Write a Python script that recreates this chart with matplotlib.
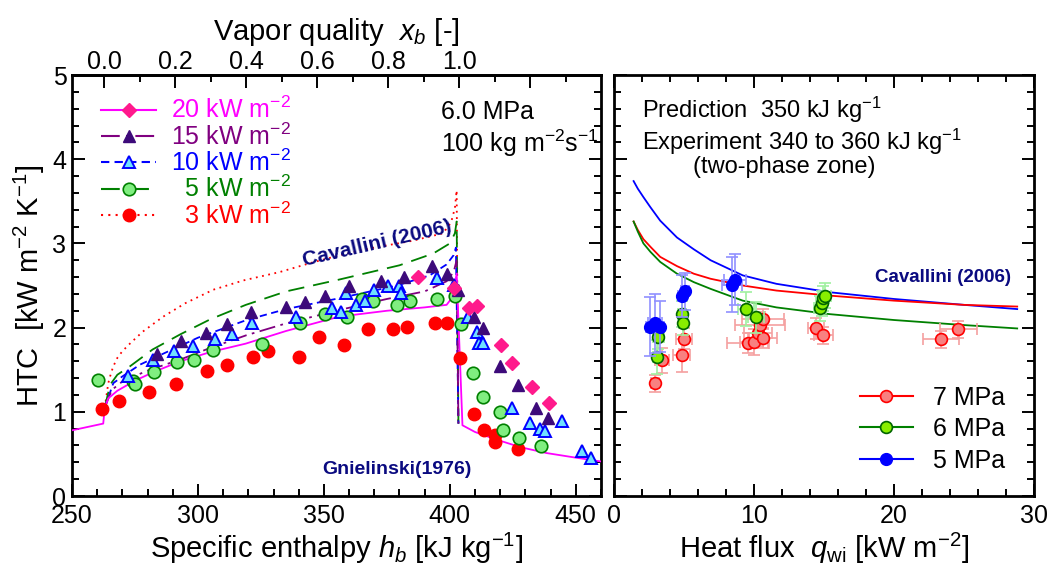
import numpy as np
import matplotlib
matplotlib.use("Agg")
import matplotlib.pyplot as plt
from matplotlib import font_manager
from matplotlib.lines import Line2D
from matplotlib.ticker import MultipleLocator, FixedLocator, FuncFormatter

# ---------------- left panel data (6.0 MPa, 100 kg m-2 s-1) ----------------
# experiment, HTC [kW m-2 K-1] vs specific enthalpy [kJ kg-1]
h_20kw = [387.4, 401.6, 407.7, 410.6, 420.2, 424.5, 432.8, 439.3]
htc_20kw = [2.60, 2.47, 2.23, 2.26, 1.79, 1.58, 1.30, 1.10]

h_15kw = [283.6, 293.1, 303.2, 311.4, 320.9, 334.8, 342.5, 350.4, 360.0, 372.6,
          381.9, 393.0, 398.9, 403.3, 409.5, 413.0, 420.1, 426.9, 434.0, 439.0]
htc_15kw = [1.69, 1.84, 1.93, 2.04, 2.18, 2.24, 2.30, 2.37, 2.49, 2.55,
            2.60, 2.73, 2.64, 2.45, 2.13, 2.00, 1.54, 1.32, 1.05, 0.93]

h_10kw = [272.3, 282.0, 290.6, 297.9, 306.7, 313.4, 321.3, 338.8, 353.1, 356.7,
          358.7, 362.7, 366.5, 370.0, 375.5, 379.8, 380.8, 395.0, 401.6, 407.3,
          410.8, 411.5, 413.2, 424.5, 431.7, 435.7, 437.7, 444.6, 452.3, 456.2]
htc_10kw = [1.42, 1.61, 1.72, 1.78, 1.86, 1.92, 2.05, 2.12, 2.23, 2.19,
            2.41, 2.27, 2.32, 2.45, 2.49, 2.49, 2.41, 2.59, 2.51, 2.13,
            1.95, 1.82, 1.82, 1.05, 0.87, 0.79, 0.77, 0.89, 0.54, 0.45]

h_5kw = [260.4, 274.3, 275.0, 282.5, 291.5, 298.4, 306.1, 325.3, 340.5, 350.4,
         359.2, 365.0, 369.6, 379.2, 384.1, 394.7, 402.0, 404.4, 409.2, 413.2,
         420.1, 420.9, 427.4, 436.0]
htc_5kw = [1.38, 1.37, 1.33, 1.47, 1.59, 1.62, 1.73, 1.80, 2.06, 2.16,
           2.12, 2.34, 2.31, 2.27, 2.32, 2.34, 2.37, 2.04, 1.46, 1.17,
           1.00, 0.78, 0.69, 0.59]

h_3kw = [261.8, 268.8, 280.6, 291.2, 303.5, 311.4, 321.7, 327.9, 340.2, 348.1,
         357.9, 367.6, 377.3, 383.1, 394.0, 398.9, 404.0, 409.5, 413.6, 418.1,
         418.1, 426.9]
htc_3kw = [1.03, 1.13, 1.23, 1.33, 1.48, 1.56, 1.65, 1.72, 1.65, 1.89,
           1.79, 1.98, 1.98, 2.01, 2.05, 2.06, 1.64, 0.97, 0.78, 0.73,
           0.64, 0.56]

# predictions: Gnielinski (1976) single phase, Cavallini (2006) two phase
h_pred_20 = [250, 262.4, 263.0, 264.4, 268, 275, 283, 293, 305, 319, 335, 356, 375, 390,
             398.7, 401.0, 402.7, 405.0, 410, 418.5, 428, 438.4, 449, 460]
htc_pred_20 = [0.78, 0.86, 1.05, 1.16, 1.25, 1.37, 1.48, 1.60, 1.71, 1.81, 1.96, 2.13, 2.20, 2.24,
               2.27, 2.36, 2.64, 0.84, 0.76, 0.67, 0.58, 0.51, 0.46, 0.41]

h_pred_15 = [263.0, 265.8, 270, 280, 292.9, 305, 319.3, 335, 356.3, 375, 390, 398.7, 401.5, 402.7, 403.4]
htc_pred_15 = [1.05, 1.26, 1.36, 1.49, 1.62, 1.76, 1.91, 2.05, 2.21, 2.34, 2.43, 2.55, 2.66, 2.80, 0.86]

h_pred_10 = [263.0, 266.4, 270, 277, 286.2, 300, 319.3, 335, 356.3, 379, 392, 398.7, 401.5, 402.4, 403.4]
htc_pred_10 = [1.05, 1.34, 1.42, 1.56, 1.69, 1.88, 2.09, 2.22, 2.35, 2.50, 2.62, 2.75, 2.86, 2.95, 0.86]

h_pred_5 = [263.0, 265.1, 268, 273.0, 282, 293, 305, 319, 335, 356, 380, 393.4, 400.0, 402.0, 402.7, 403.4]
htc_pred_5 = [1.05, 1.32, 1.44, 1.54, 1.74, 1.92, 2.10, 2.27, 2.43, 2.57, 2.74, 2.88, 3.00, 3.12, 3.26, 0.86]

h_pred_3 = [263.0, 264.4, 265.5, 266.4, 268, 270, 273, 278, 286.2, 295, 306.1, 318, 332.5, 345,
            356.3, 370, 385, 397.3, 400.5, 402.0, 402.7, 403.3]
htc_pred_3 = [1.05, 1.34, 1.46, 1.54, 1.64, 1.72, 1.81, 1.95, 2.13, 2.29, 2.45, 2.56, 2.66, 2.77,
              2.86, 2.95, 3.03, 3.12, 3.25, 3.42, 3.63, 0.86]

# ---------------- right panel data (350 kJ/kg, two-phase) ----------------
q_pred = [1.4, 1.7, 2.1, 2.6, 3.3, 4.5, 5.7, 6.9, 9.2, 11.6, 15.4, 20, 25, 28.8]
htc_pred_5mpa = [3.74, 3.65, 3.55, 3.43, 3.27, 3.07, 2.93, 2.80, 2.62, 2.52, 2.42, 2.34, 2.27, 2.22]
htc_pred_7mpa = [3.26, 3.16, 3.05, 2.96, 2.84, 2.73, 2.64, 2.58, 2.50, 2.44, 2.38, 2.32, 2.27, 2.25]
htc_pred_6mpa = [3.26, 3.14, 3.00, 2.90, 2.78, 2.64, 2.54, 2.46, 2.32, 2.24, 2.16, 2.09, 2.03, 1.99]

q_7mpa = [2.93, 3.41, 4.84, 5.00, 9.59, 10.0, 10.31, 10.43, 10.66, 10.62, 14.43, 14.95, 23.34, 24.6]
htc_7mpa = [1.34, 1.61, 1.67, 1.87, 1.82, 1.83, 1.93, 2.03, 2.10, 1.88, 1.99, 1.91, 1.86, 1.98]
qerr_7mpa = [0.3, 0.5, 0.6, 0.6, 1.5, 1.0, 1.0, 1.8, 1.5, 1.0, 0.6, 0.7, 1.3, 1.3]
htcerr_7mpa = [0.10, 0.15, 0.20, 0.12, 0.12, 0.15, 0.15, 0.15, 0.12, 0.12, 0.12, 0.10, 0.10, 0.10]

q_6mpa = [3.16, 3.05, 4.84, 4.95, 9.43, 10.14, 14.71, 14.84, 14.95, 15.07]
htc_6mpa = [1.89, 1.65, 2.16, 2.06, 2.22, 2.12, 2.23, 2.29, 2.35, 2.38]
qerr_6mpa = [0.4, 0.3, 0.3, 0.3, 0.6, 0.6, 0.4, 0.4, 0.4, 0.4]
htcerr_6mpa = [0.15, 0.20, 0.15, 0.15, 0.20, 0.18, 0.15, 0.15, 0.15, 0.15]

q_5mpa = [2.57, 2.93, 3.29, 4.84, 5.07, 8.41, 8.64]
htc_5mpa = [2.01, 2.05, 2.01, 2.37, 2.43, 2.51, 2.57]
qerr_5mpa = [0.3, 0.5, 0.3, 0.3, 0.3, 0.7, 0.8]
htcerr_5mpa = [0.35, 0.35, 0.30, 0.25, 0.22, 0.33, 0.30]

# ---------------- fonts ----------------
names = {f.name for f in font_manager.fontManager.ttflist}
base = 'Liberation Sans' if 'Liberation Sans' in names else 'DejaVu Sans'
plt.rcParams['font.family'] = [base, 'DejaVu Sans']
plt.rcParams['mathtext.fontset'] = 'custom'
plt.rcParams['mathtext.rm'] = base
plt.rcParams['mathtext.it'] = base + ':italic'
plt.rcParams['mathtext.bf'] = base + ':bold'

tick_fs = 18
label_fs = 21
text_fs = 18
navy = '#0a0a80'

fig = plt.figure(figsize=(10.55, 5.70), dpi=100)
ax1 = fig.add_axes([72 / 1055, 74 / 570, 529 / 1055, 421 / 570])
ax2 = fig.add_axes([614 / 1055, 74 / 570, 420 / 1055, 421 / 570])

# ---------------- left panel ----------------
ax1.plot(h_pred_3, htc_pred_3, color='red', ls=(0, (1, 2.5)), lw=1.3, zorder=2)
ax1.plot(h_pred_5, htc_pred_5, color='green', ls=(0, (9, 5)), lw=1.3, zorder=2)
ax1.plot(h_pred_10, htc_pred_10, color='blue', ls=(0, (4, 2.5)), lw=1.3, zorder=2)
ax1.plot(h_pred_15, htc_pred_15, color='purple', ls=(0, (9, 3, 1.5, 3)), lw=1.3, zorder=2)
ax1.plot(h_pred_20, htc_pred_20, color='magenta', ls='-', lw=1.3, zorder=3)

ms = 9
ax1.plot(h_3kw, htc_3kw, 'o', ms=ms, mfc='red', mec='red', zorder=4)
ax1.plot(h_5kw, htc_5kw, 'o', ms=ms, mfc='#80ee80', mec='green', mew=1.2, zorder=4)
ax1.plot(h_10kw, htc_10kw, '^', ms=ms, mfc='#70e0ff', mec='blue', mew=1.4, zorder=4)
ax1.plot(h_15kw, htc_15kw, '^', ms=ms, mfc='#3d0a7a', mec='#3d0a7a', zorder=4)
ax1.plot(h_20kw, htc_20kw, 'D', ms=7.5, mfc='#ff1a8c', mec='#ff1a8c', zorder=4)

ax1.set_xlim(250, 460)
ax1.set_ylim(0, 5)
ax1.xaxis.set_major_locator(MultipleLocator(50))
ax1.xaxis.set_minor_locator(MultipleLocator(10))
ax1.yaxis.set_major_locator(MultipleLocator(1))
ax1.yaxis.set_minor_locator(MultipleLocator(0.2))
ax1.tick_params(which='both', direction='in', top=False, right=True, width=1.4,
                labelsize=tick_fs)
ax1.tick_params(which='major', length=9)
ax1.tick_params(which='minor', length=5)
ax1.tick_params(axis='x', pad=6)
ax1.tick_params(axis='y', pad=4)
for s in ax1.spines.values():
    s.set_linewidth(2)

ax1.set_xlabel('Specific enthalpy $h_b$ [kJ kg$^{-1}$]', fontsize=label_fs, labelpad=2)
ax1.set_ylabel('HTC  [kW m$^{-2}$ K$^{-1}$]', fontsize=label_fs, labelpad=4)

# top axis: vapor quality
def h2x(h):
    return (np.asarray(h) - 262.7) / 141.0

def x2h(x):
    return np.asarray(x) * 141.0 + 262.7

secax = ax1.secondary_xaxis('top', functions=(h2x, x2h))
secax.xaxis.set_major_locator(FixedLocator(np.arange(0, 1.41, 0.2)))
secax.xaxis.set_minor_locator(FixedLocator(np.arange(0, 1.41, 0.1)))
secax.xaxis.set_major_formatter(FuncFormatter(lambda v, p: '%.1f' % v if v < 1.05 else ''))
secax.tick_params(which='both', direction='in', width=1.4, labelsize=tick_fs, pad=1)
secax.tick_params(which='major', length=9)
secax.tick_params(which='minor', length=5)
secax.spines['top'].set_linewidth(2)
secax.set_xlabel('Vapor quality  $x_b$ [-]', fontsize=label_fs, labelpad=7)

# legend
leg_handles = [
    Line2D([], [], color='magenta', ls='-', marker='D', ms=7.5, mfc='#ff1a8c', mec='#ff1a8c'),
    Line2D([], [], color='purple', ls=(0, (9, 3, 1.5, 3)), marker='^', ms=ms, mfc='#3d0a7a', mec='#3d0a7a'),
    Line2D([], [], color='blue', ls=(0, (4, 2.5)), marker='^', ms=ms, mfc='#70e0ff', mec='blue', mew=1.4),
    Line2D([], [], color='green', ls=(0, (9, 5)), marker='o', ms=ms, mfc='#80ee80', mec='green', mew=1.2),
    Line2D([], [], color='red', ls=(0, (1, 2.5)), marker='o', ms=ms, mfc='red', mec='red'),
]
leg_labels = ['20 kW m$^{-2}$', '15 kW m$^{-2}$', '10 kW m$^{-2}$',
              '  5 kW m$^{-2}$', '  3 kW m$^{-2}$']
leg_colors = ['magenta', 'purple', 'blue', 'green', 'red']
leg = ax1.legend(leg_handles, leg_labels, loc='upper left', bbox_to_anchor=(0.055, 0.948),
                 frameon=False, fontsize=text_fs, handlelength=2.2, handletextpad=0.6,
                 labelspacing=0.0, borderpad=0, borderaxespad=0)
for t, c in zip(leg.get_texts(), leg_colors):
    t.set_color(c)

ax1.text(0.697, 0.912, '6.0 MPa', transform=ax1.transAxes, fontsize=text_fs, va='center')
ax1.text(0.697, 0.838, '100 kg m$^{-2}$s$^{-1}$', transform=ax1.transAxes, fontsize=text_fs,
         va='center')
ax1.text(371, 3.0, 'Cavallini (2006)', color=navy, fontsize=15, fontweight='bold',
         rotation=13, ha='center', va='center')
ax1.text(379, 0.31, 'Gnielinski(1976)', color=navy, fontsize=14, fontweight='bold',
         ha='center', va='center')

# ---------------- right panel ----------------
ax2.plot(q_pred, htc_pred_5mpa, color='blue', lw=1.3, zorder=2)
ax2.plot(q_pred, htc_pred_7mpa, color='red', lw=1.3, zorder=2)
ax2.plot(q_pred, htc_pred_6mpa, color='green', lw=1.3, zorder=2)

ms2 = 8.5
ax2.errorbar(q_7mpa, htc_7mpa, yerr=htcerr_7mpa, xerr=qerr_7mpa, fmt='o', ms=ms2,
             mfc='#f88080', mec='red', mew=1.2, ecolor='#f5a0a0', elinewidth=1.2,
             capsize=4, capthick=1.2, zorder=3)
ax2.errorbar(q_6mpa, htc_6mpa, yerr=htcerr_6mpa, xerr=qerr_6mpa, fmt='o', ms=ms2,
             mfc='#88ee00', mec='#006400', mew=1.2, ecolor='#a0f0a0', elinewidth=1.2,
             capsize=4, capthick=1.2, zorder=4)
ax2.errorbar(q_5mpa, htc_5mpa, yerr=htcerr_5mpa, xerr=qerr_5mpa, fmt='o', ms=ms2,
             mfc='blue', mec='blue', ecolor='#9090ff', elinewidth=1.2,
             capsize=4, capthick=1.2, zorder=5)

ax2.set_xlim(0, 30)
ax2.set_ylim(0, 5)
ax2.xaxis.set_major_locator(MultipleLocator(10))
ax2.xaxis.set_minor_locator(MultipleLocator(2))
ax2.yaxis.set_major_locator(MultipleLocator(1))
ax2.yaxis.set_minor_locator(MultipleLocator(0.2))
ax2.tick_params(which='both', direction='in', top=True, right=True, width=1.4,
                labelsize=tick_fs, labelleft=False)
ax2.tick_params(which='major', length=9)
ax2.tick_params(which='minor', length=5)
ax2.tick_params(axis='x', pad=6)
for s in ax2.spines.values():
    s.set_linewidth(2)
ax2.set_xlabel('Heat flux  $q_{\\rm wi}$ [kW m$^{-2}$]', fontsize=label_fs, labelpad=2)

r_handles = [
    Line2D([], [], color='red', marker='o', ms=ms2, mfc='#f88080', mec='red', mew=1.2),
    Line2D([], [], color='green', marker='o', ms=ms2, mfc='#88ee00', mec='#006400', mew=1.2),
    Line2D([], [], color='blue', marker='o', ms=ms2, mfc='blue', mec='blue'),
]
ax2.legend(r_handles, ['7 MPa', '6 MPa', '5 MPa'], loc='upper left',
           bbox_to_anchor=(0.586, 0.262), frameon=False, fontsize=text_fs,
           handlelength=2.1, handletextpad=0.8, labelspacing=0.3,
           borderpad=0, borderaxespad=0)

ax2.text(0.067, 0.917, 'Prediction  350 kJ kg$^{-1}$', transform=ax2.transAxes,
         fontsize=17, va='center')
ax2.text(0.067, 0.841, 'Experiment 340 to 360 kJ kg$^{-1}$', transform=ax2.transAxes,
         fontsize=17, va='center')
ax2.text(0.188, 0.781, '(two-phase zone)', transform=ax2.transAxes, fontsize=17,
         va='center')
ax2.text(23.5, 2.6, 'Cavallini (2006)', color=navy, fontsize=13.5, fontweight='bold',
         ha='center', va='center')

fig.savefig('out.png', dpi=100)
